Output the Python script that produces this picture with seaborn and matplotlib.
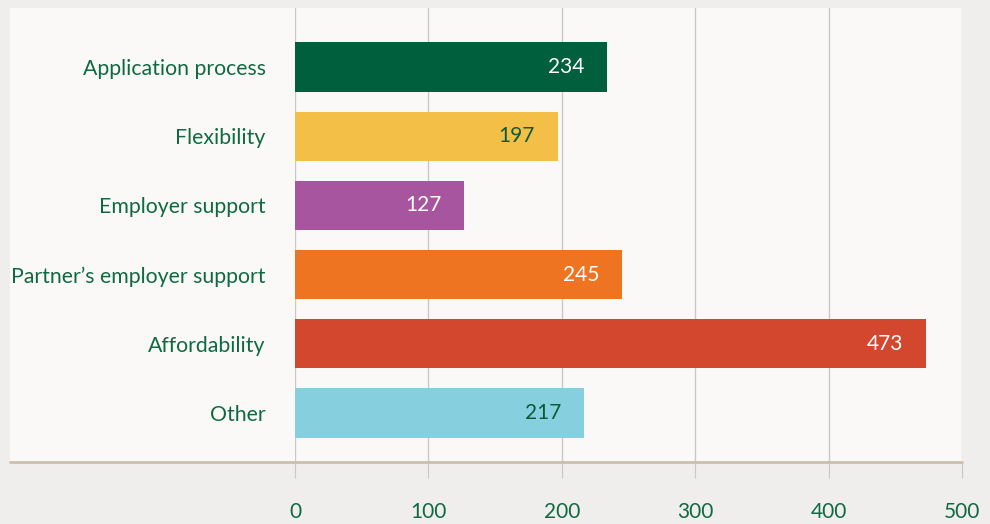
import matplotlib
matplotlib.use("Agg")
import matplotlib.pyplot as plt
import seaborn as sns
import pandas as pd
from matplotlib.patches import Rectangle
from matplotlib.lines import Line2D

categories = ["Application process", "Flexibility", "Employer support",
              "Partner\u2019s employer support", "Affordability", "Other"]
values = [234, 197, 127, 245, 473, 217]
colors = ["#005f3c", "#f4bf47", "#a6559e", "#ee7421", "#d2472e", "#86cfdf"]
label_colors = ["white", "#0f5a36", "white", "white", "white", "#0f5a36"]
xticks = [0, 100, 200, 300, 400, 500]

sns.set_theme(style="white")
plt.rcParams['font.family'] = ['Lato', 'DejaVu Sans']

W, H = 990, 524
fig = plt.figure(figsize=(W / 100, H / 100), dpi=100)
fig.patch.set_facecolor("#efeeec")

# inner panel
fig.patches.append(Rectangle((10 / W, 1 - 462 / H), (962 - 10) / W, (462 - 8) / H,
                             transform=fig.transFigure, facecolor="#faf9f8",
                             edgecolor="none", zorder=-5))

ax = fig.add_axes([295 / W, 1 - 462 / H, (962 - 295) / W, (462 - 8) / H])
ax.set_zorder(2)
ax.set_facecolor("none")

df = pd.DataFrame({"cat": categories, "val": values})
sns.barplot(data=df, x="val", y="cat", hue="cat", palette=colors, orient="h",
            width=0.71, legend=False, ax=ax, saturation=1, zorder=3, linewidth=0)

ax.set_xlim(0, 500)
ax.set_ylim(5.708, -0.853)
ax.set_xticks(xticks)
ax.set_xticklabels([str(t) for t in xticks])
ax.xaxis.grid(True, color="#cbc7c2", linewidth=1, zorder=1)
ax.set_axisbelow(True)
for s in ax.spines.values():
    s.set_visible(False)
ax.set_xlabel("")
ax.set_ylabel("")
ax.tick_params(axis="x", length=11.5, width=0.8, color="#cbc7c2", pad=17,
               labelsize=15, labelcolor="#0f6a40", bottom=True)
ax.tick_params(axis="y", length=0, pad=21, labelsize=15.3, labelcolor="#0f6a40")

for i, (v, c) in enumerate(zip(values, label_colors)):
    ax.text(v - 17, i, str(v), ha="right", va="center", color=c, fontsize=15, zorder=5)

# bottom axis line spanning panel
fig.lines.append(Line2D([10 / W, 962 / W], [1 - 462 / H, 1 - 462 / H],
                        transform=fig.transFigure, color="#cabfb0", linewidth=2,
                        zorder=5))

fig.savefig("out.png", dpi=100, facecolor=fig.get_facecolor())
